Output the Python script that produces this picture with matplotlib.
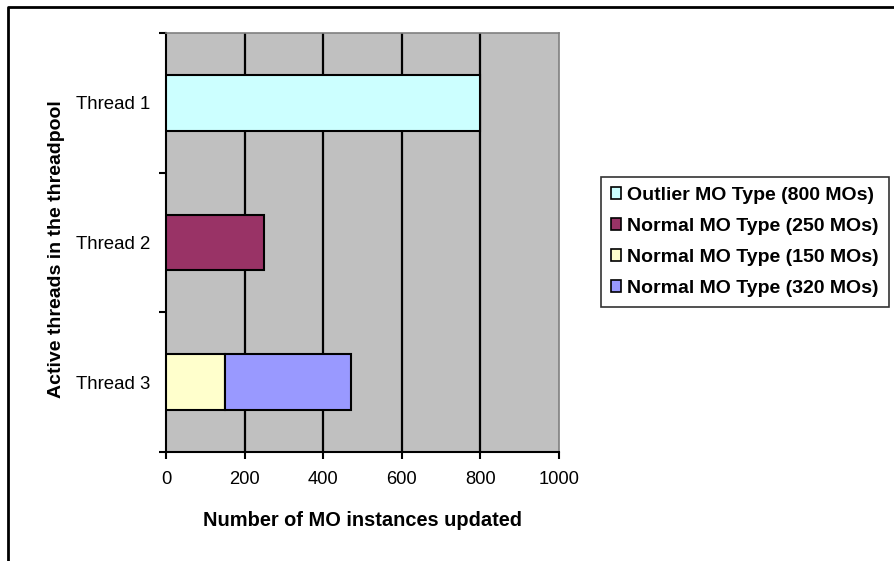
import numpy as np
import matplotlib
matplotlib.use("Agg")
import matplotlib.pyplot as plt
from matplotlib.patches import Rectangle
from matplotlib.lines import Line2D

plt.rcParams['font.family'] = ['Liberation Sans', 'DejaVu Sans']

threads = ['Thread 1', 'Thread 2', 'Thread 3']
series_names = ['Outlier MO Type (800 MOs)', 'Normal MO Type (250 MOs)',
                'Normal MO Type (150 MOs)', 'Normal MO Type (320 MOs)']
series_values = [
    [800, 0, 0],
    [0, 250, 0],
    [0, 0, 150],
    [0, 0, 320],
]
series_colors = ['#CCFFFF', '#993366', '#FFFFCC', '#9999FF']
x_ticks = [0, 200, 400, 600, 800, 1000]

fig = plt.figure(figsize=(8.95, 5.61), dpi=100)
ax = fig.add_axes([166 / 895, 1 - 452 / 561, 393 / 895, 419 / 561])
ax.set_facecolor('#C0C0C0')

ypos = np.arange(len(threads))
left = np.zeros(len(threads))
for name, vals, col in zip(series_names, series_values, series_colors):
    vals = np.array(vals, dtype=float)
    keep = vals > 0
    ax.barh(ypos[keep], vals[keep], left=left[keep], height=0.4,
            color=col, edgecolor='black', linewidth=1.5, zorder=3)
    left += vals

# vertical gridlines
for x in x_ticks[1:-1]:
    ax.axvline(x, color='black', linewidth=1.6, zorder=1)

ax.set_xlim(0, 1000)
ax.set_ylim(len(threads) - 0.5, -0.5)
ax.set_xticks(x_ticks)
ax.set_xticklabels([str(v) for v in x_ticks], fontsize=13.2)
ax.tick_params(axis='x', length=5, width=1.5, pad=9, color='black')

# category boundary ticks on the y axis, labels centred between them
ax.set_yticks(np.arange(len(threads) + 1) - 0.5)
ax.set_yticklabels([])
ax.set_yticks(ypos, minor=True)
ax.set_yticklabels(threads, minor=True, fontsize=13.4)
ax.tick_params(axis='y', which='major', length=5, width=1.5, color='black')
ax.tick_params(axis='y', which='minor', length=0, pad=11.5)

for side in ['left', 'bottom']:
    ax.spines[side].set_color('black')
    ax.spines[side].set_linewidth(1.5)
for side in ['top', 'right']:
    ax.spines[side].set_color('#808080')
    ax.spines[side].set_linewidth(1.2)

ax.set_xlabel('Number of MO instances updated', fontsize=14.4, fontweight='bold',
              labelpad=16)
fig.text(57 / 895, 1 - 249 / 561, 'Active threads in the threadpool', rotation=90,
         fontsize=14, fontweight='bold', ha='center', va='center')

handles = [Rectangle((0, 0), 1, 1, facecolor=c, edgecolor='black', linewidth=1.2)
           for c in series_colors]
leg = fig.legend(handles, series_names, loc='center left',
                 bbox_to_anchor=(601 / 895, 1 - 242 / 561),
                 prop={'weight': 'bold', 'size': 14},
                 handlelength=0.55, handleheight=0.55, handletextpad=0.3,
                 labelspacing=0.72, borderpad=0.5, borderaxespad=0.0,
                 frameon=True, fancybox=False)
leg.get_frame().set_edgecolor('black')
leg.get_frame().set_linewidth(1.2)

# chart-area border along the top and left
fig.add_artist(Line2D([8 / 895, 8 / 895, 1.0], [0.0, 1 - 7 / 561, 1 - 7 / 561],
                      transform=fig.transFigure, color='black', linewidth=2))

fig.savefig('out.png', dpi=100)
